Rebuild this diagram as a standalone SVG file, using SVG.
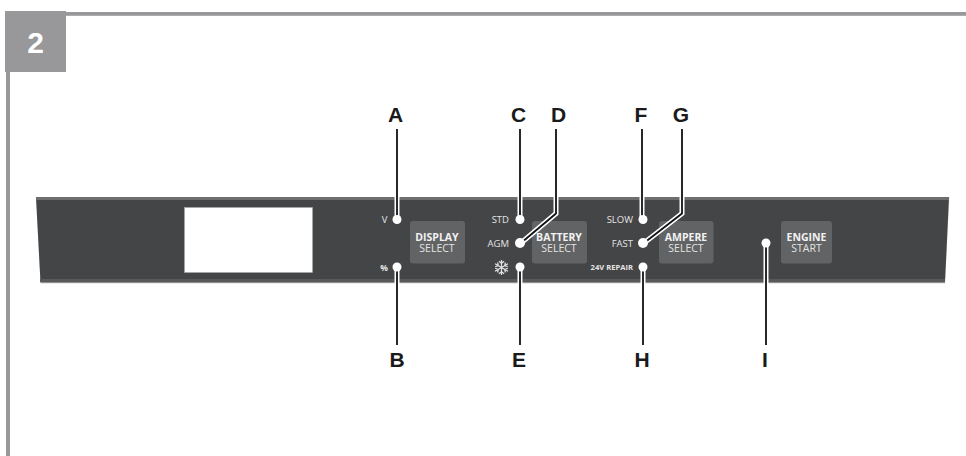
<svg xmlns="http://www.w3.org/2000/svg" width="966" height="456" viewBox="0 0 966 456">
<style>
.frame{fill:#98989b}
.btn{fill:#626365}
.dot{fill:#fff}
.lo{fill:none;stroke:#fff;stroke-width:5}
.li{fill:none;stroke:#111;stroke-width:1.8}
.ltr{font:bold 21px "Liberation Sans",Arial,sans-serif;fill:#1a1a1a;text-anchor:middle}
.ind{font:9.5px "Open Sans",sans-serif;fill:#e4e4e4;text-anchor:end}
.bt{font:10.5px "Open Sans",sans-serif;text-anchor:middle}
.b1{font-weight:bold;fill:#f2f2f2}
.b2{fill:#e4e4e4}
.sn{fill:none;stroke:#e4e4e4;stroke-width:1.2}
</style>
<rect width="966" height="456" fill="#fff"/>
<g id="frame">
<rect class="frame" x="5" y="12" width="961" height="3.800"/>
<rect class="frame" x="6" y="11" width="4" height="445"/>
<rect class="frame" x="5" y="11" width="61" height="61"/>
<text x="35.500" y="53" font-family="Liberation Sans,Arial,sans-serif" font-weight="bold" font-size="30" fill="#fff" text-anchor="middle">2</text>
</g>
<g id="panel">
<path d="M36 197H949.500L945 283.500H40.500Z" fill="#d8d8d8"/>
<path d="M36 197H949L945 282.500H40.500Z" fill="#444547"/>
<rect x="36" y="197" width="913" height="3" fill="#6d6e70"/>
<rect x="40" y="279" width="905" height="3" fill="#59595b"/>
<rect x="184.500" y="207.500" width="128" height="65" fill="#fff" stroke="#a9a9a9" stroke-width=".6"/>
</g>
<g id="display-select"><rect class="btn" x="410" y="221" width="55" height="42.500" rx="3"/><text class="bt" x="437" y="240.700"><tspan class="b1">DISPLAY</tspan><tspan class="b2" x="437" y="252.300">SELECT</tspan></text></g>
<g id="battery-select"><rect class="btn" x="532" y="221" width="55" height="42.500" rx="3"/><text class="bt" x="559" y="240.700"><tspan class="b1">BATTERY</tspan><tspan class="b2" x="559" y="252.300">SELECT</tspan></text></g>
<g id="ampere-select"><rect class="btn" x="659" y="221" width="54.500" height="42.500" rx="3"/><text class="bt" x="686" y="240.700"><tspan class="b1">AMPERE</tspan><tspan class="b2" x="686" y="252.300">SELECT</tspan></text></g>
<g id="engine-start"><rect class="btn" x="781" y="221" width="51" height="42.500" rx="3"/><text class="bt" x="806.500" y="240.700"><tspan class="b1">ENGINE</tspan><tspan class="b2" x="806.500" y="252.300">START</tspan></text></g>
<g id="connectors">
<path class="lo" d="M397 129V219"/><path class="li" d="M397 129V219"/>
<path class="lo" d="M397 267V345"/><path class="li" d="M397 267V345"/>
<path class="lo" d="M520 129V219"/><path class="li" d="M520 129V219"/>
<path class="lo" d="M556 129V213.500L521 243"/><path class="li" d="M556 129V213.500L521 243"/>
<path class="lo" d="M520 267V345"/><path class="li" d="M520 267V345"/>
<path class="lo" d="M642 129V219"/><path class="li" d="M642 129V219"/>
<path class="lo" d="M682 129V213.500L644 243"/><path class="li" d="M682 129V213.500L644 243"/>
<path class="lo" d="M643 267V345"/><path class="li" d="M643 267V345"/>
<path class="lo" d="M766 243V345"/><path class="li" d="M766 243V345"/>
</g>
<g id="node-a"><circle class="dot" cx="397" cy="219.500" r="4.500"/><text class="ind" x="387.500" y="223">V</text><text class="ltr" x="395.500" y="122">A</text></g>
<g id="node-b"><circle class="dot" cx="397" cy="267" r="4.500"/><text class="ind" x="388" y="270.500" style="font-weight:bold;font-size:8.500px">%</text><text class="ltr" x="397" y="367">B</text></g>
<g id="node-c"><circle class="dot" cx="520" cy="219.500" r="4.500"/><text class="ind" x="509" y="223">STD</text><text class="ltr" x="518.500" y="122">C</text></g>
<g id="node-d"><circle class="dot" cx="520" cy="243" r="5"/><text class="ind" x="509" y="247">AGM</text><text class="ltr" x="558.500" y="122">D</text></g>
<g id="node-e"><circle class="dot" cx="520" cy="267" r="4.500"/><text class="ltr" x="519" y="367">E</text>
<path class="sn" d="M501.500 260V275M495 263.700L508 271.300M495 271.300L508 263.700M499 261.200L501.500 263.500L504 261.200M499 273.800L501.500 271.500L504 273.800M495.200 266.800L498.300 265.700L497.600 262.500M507.800 268.200L504.700 269.300L505.400 272.500M495.200 268.200L498.300 269.300L497.600 272.500M507.800 266.800L504.700 265.700L505.400 262.500"/></g>
<g id="node-f"><circle class="dot" cx="643" cy="219.500" r="4.500"/><text class="ind" x="633" y="223">SLOW</text><text class="ltr" x="641" y="122">F</text></g>
<g id="node-g"><circle class="dot" cx="643" cy="243" r="5"/><text class="ind" x="633" y="247">FAST</text><text class="ltr" x="681" y="122">G</text></g>
<g id="node-h"><circle class="dot" cx="643" cy="267" r="4.500"/><text class="ind" x="633" y="270" style="font-weight:bold;font-size:7.600px">24V REPAIR</text><text class="ltr" x="642" y="367">H</text></g>
<g id="node-i"><circle class="dot" cx="766" cy="243" r="4.500"/><text class="ltr" x="765" y="367">I</text></g>
</svg>
